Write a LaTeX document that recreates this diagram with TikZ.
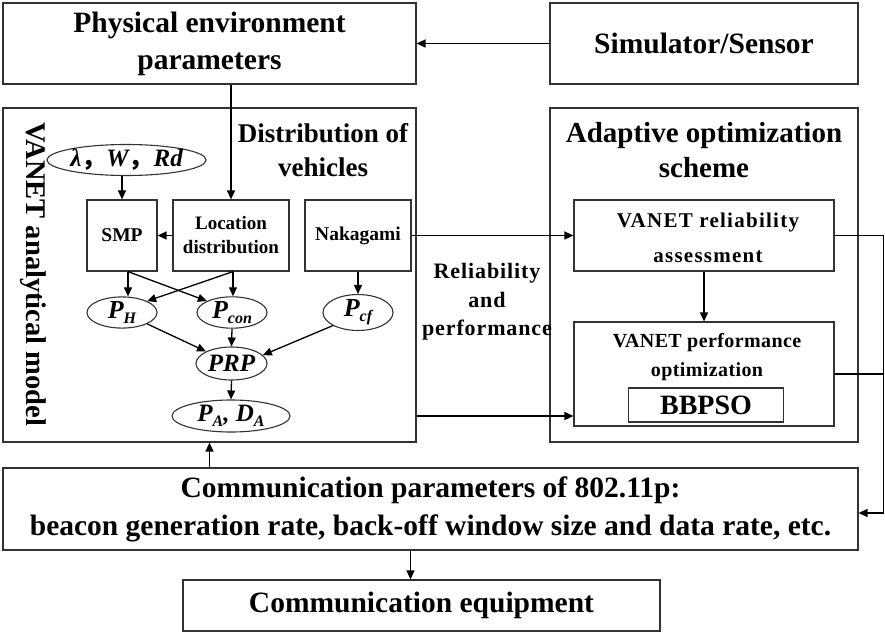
\documentclass[tikz,border=0pt]{standalone}
\usepackage{fontspec}
\setmainfont{Liberation Serif}
\newfontfamily\cjk{Noto Sans CJK SC}
\usetikzlibrary{arrows.meta,calc,shapes.geometric}
\newcommand\fs[2]{\fontsize{#1}{#2}\selectfont}
\newcommand\ls[1]{\addfontfeature{LetterSpace=#1}}
\newcommand\sbx[1]{\raisebox{-5pt}{\fontsize{16}{16}\selectfont #1}}
\begin{document}
\begin{tikzpicture}[x=1pt,y=-1pt,
 box/.style={draw=black!80,line width=1.2pt,inner sep=0pt,align=center},
 wh/.style n args={2}{minimum width=#1pt,minimum height=#2pt},
 ell/.style={ellipse,draw=black!80,line width=1.1pt,inner sep=0pt},
 lbl/.style={inner sep=0pt,align=center},
 arr/.style={line width=1.3pt,-{Triangle[length=9pt,width=8pt]}},
 ln/.style={line width=1.3pt}]
\useasboundingbox (0,0) rectangle (885,637);
% top row
\node[box,wh={413}{81},font=\bfseries\fs{29.5}{37}] (phys) at (209.5,43.5) {Physical environment\\parameters};
\node[box,wh={308}{81},font=\bfseries\fs{29.5}{37}] (sim) at (704,43.5) {Simulator/Sensor};
% big panels
\node[box,wh={413}{334}] (anal) at (209.5,275) {};
\node[box,wh={308}{334}] (adapt) at (704,275) {};
\node[lbl,font=\bfseries\fs{27}{34}] (dtitle) at (323,150) {Distribution of\\vehicles};
\node[lbl,font=\bfseries\fs{29}{35}] (atitle) at (704,150.5) {Adaptive optimization\\scheme};
\node[lbl,rotate=-90,font=\bfseries\fs{28.5}{34}] (vlab) at (33,274.5) {VANET analytical model};
% analytical model contents
\node[ell,wh={153}{31},font=\bfseries\itshape\fs{25}{25}] (lam) at (126.5,160) {λ{\cjk ，}W{\cjk ，}Rd};
\node[box,wh={70}{71},font=\bfseries\fs{19.5}{24}] (smp) at (122,235.5) {SMP};
\node[box,wh={116}{71},font=\bfseries\fs{19}{24}] (loc) at (231,235.5) {Location\\distribution};
\node[box,wh={106}{71},font=\bfseries\fs{19.5}{24}] (nak) at (358,235.5) {Nakagami};
\node[ell,wh={70}{31},font=\bfseries\itshape\fs{26}{26}] (ph) at (122,312.5) {P\sbx{H}};
\node[ell,wh={70}{31},font=\bfseries\itshape\fs{26}{26}] (pcon) at (232,312.5) {P\sbx{con}};
\node[ell,wh={70}{31},font=\bfseries\itshape\fs{26}{26}] (pcf) at (358,312.5) {P\sbx{cf}};
\node[ell,wh={71}{33},font=\bfseries\itshape\fs{25}{25}] (prp) at (231.5,363.5) {PRP};
\node[ell,wh={118}{32},font=\bfseries\itshape\fs{25}{25}] (pa) at (231,416) {P\sbx{A}, D\sbx{A}};
% adaptive scheme contents
\node[box,wh={260}{71}] (rel) at (704,235.5) {};
\node[lbl,font=\bfseries\fs{21}{35}\ls{6}] (reltext) at (708,237.5) {VANET reliability\\assessment};
\node[box,wh={260}{104}] (perf) at (704,374) {};
\node[lbl,font=\bfseries\fs{20}{29}\ls{2}] (perftext) at (707,357.5) {VANET performance\\optimization};
\node[box,wh={155}{34},font=\bfseries\fs{28}{28}] (bbpso) at (706,405) {BBPSO};
\node[lbl,font=\bfseries\fs{22}{28.5}\ls{4}] (rp) at (487,302) {Reliability\\and\\performance};
% bottom
\node[box,wh={855}{82},font=\bfseries\fs{29.5}{38}] (comm) at (430.5,509) {Communication parameters of 802.11p:\\beacon generation rate, back-off window size and data rate, etc.};
\node[box,wh={477}{51},font=\bfseries\fs{29.5}{36}] (equip) at (421.5,605.5) {Communication equipment};
% connectors
\draw[arr] (sim) -- (phys);
\draw[arr] (loc.north |- phys.south) -- (loc.north);
\draw[arr] (smp.north |- lam.south) -- (smp.north);
\draw[arr] (loc) -- (smp);
\coordinate (smpo) at ($(smp.south)+(6,0)$);
\coordinate (loco) at ($(loc.south)+(2,0)$);
\draw[arr] (smpo) -- (smpo |- ph.north);
\draw[arr] (smpo) -- (pcon.north west);
\draw[arr] (loco) -- (loco |- pcon.north);
\draw[arr] (loco) -- (ph.north east);
\draw[arr] (nak.south -| pcf.north) -- (pcf.north);
\draw[arr] (ph.south east) -- (prp.north west);
\draw[arr] (pcon.south) -- (prp.north);
\draw[arr] (pcf.south west) -- (prp.15);
\draw[arr] (prp.south) -- (pa.north);
\draw[arr] (nak) -- (rel);
\draw[arr] (anal.east |- pa) -- (perf.west |- pa);
\draw[arr] (rel.south) -- (perf.north);
\coordinate (commin) at ($(comm.east)+(0,4)$);
\draw[arr] (rel.east) -- ++(49,0) |- (commin);
\draw[ln] (perf.east) -- ++(49,0);
\draw[arr] (comm.north -| anal.south) -- (anal.south);
\coordinate (eqin) at ($(equip.north)+(-11,0)$);
\draw[arr] (comm.south -| eqin) -- (eqin);
\end{tikzpicture}
\end{document}
